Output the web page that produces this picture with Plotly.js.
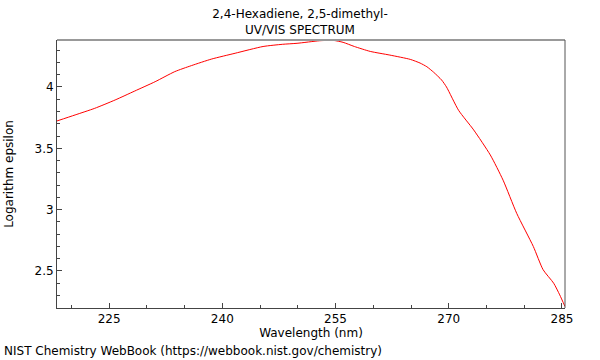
<!DOCTYPE html>
<html><head><meta charset="utf-8">
<script src="https://cdn.plot.ly/plotly-3.0.1.min.js"></script>
<style>html,body{margin:0;padding:0;background:#fff}#c{width:600px;height:360px}</style>
</head><body><div id="c"></div>
<script>
const wavelength = [218.1, 220.5, 223.1, 225.8, 228.4, 231.1, 233.7, 235.9, 238.6, 241.7, 245.4, 248, 249.9, 252.9, 254.7, 256.0, 257.5, 259.6, 262.2, 264.9, 266.2, 267.1, 268.0, 269.05, 269.7, 271.3, 273.3, 275.5, 277.2, 279.0, 281.2, 282.5, 283.9, 284.7, 285.4];
const logEps = [3.723, 3.772, 3.826, 3.894, 3.967, 4.043, 4.125, 4.174, 4.228, 4.275, 4.33, 4.348, 4.356, 4.377, 4.38, 4.364, 4.33, 4.29, 4.26, 4.225, 4.195, 4.165, 4.12, 4.057, 4.0, 3.81, 3.65, 3.446, 3.24, 2.97, 2.70, 2.51, 2.40, 2.305, 2.21];
const xTicks = [225, 240, 255, 270, 285];
const yTicks = [2.5, 3, 3.5, 4];
const titleLines = ["2,4-Hexadiene, 2,5-dimethyl-", "UV/VIS SPECTRUM"];

const font = {family: "DejaVu Sans", size: 12, color: "#000"};
Plotly.newPlot("c", [{
  x: wavelength, y: logEps, type: "scatter", mode: "lines",
  line: {color: "#ff0000", width: 1, shape: "spline", smoothing: 0.6}
}], {
  width: 600, height: 360,
  margin: {l: 57, r: 35, t: 40, b: 52},
  paper_bgcolor: "#fff", plot_bgcolor: "#fff",
  font: font,
  showlegend: false,
  title: {text: titleLines.join("<br>"), font: {family: "DejaVu Sans", size: 12}, x: 0.5, xanchor: "center",
          yref: "container", y: 0.949, yanchor: "top"},
  xaxis: {
    range: [218.1, 285.4], tickvals: xTicks, ticktext: xTicks.map(String),
    ticks: "inside", ticklen: 5, tickcolor: "#444", tickwidth: 1,
    minor: {dtick: 5, tick0: 0, ticks: "inside", ticklen: 3, tickcolor: "#444"},
    showline: true, linecolor: "#444", linewidth: 1, showgrid: false, zeroline: false,
    title: {text: "Wavelength (nm)", font: font, standoff: 2},
    tickfont: font
  },
  yaxis: {
    range: [2.198, 4.383], tickvals: yTicks, ticktext: yTicks.map(String),
    ticks: "inside", ticklen: 5, tickcolor: "#444", tickwidth: 1,
    minor: {dtick: 0.1, tick0: 0, ticks: "inside", ticklen: 3, tickcolor: "#444"},
    showline: true, linecolor: "#444", linewidth: 1, showgrid: false, zeroline: false,
    title: {text: "Logarithm epsilon", font: font, standoff: 18},
    tickfont: font
  },
  shapes: [
    {type: "line", xref: "paper", yref: "paper", x0: 0, x1: 1, y0: 1, y1: 1, line: {color: "#999", width: 2}},
    {type: "line", xref: "paper", yref: "paper", x0: 1, x1: 1, y0: 0, y1: 1, line: {color: "#555", width: 1}}
  ],
  annotations: [{
    text: "NIST Chemistry WebBook (https://webbook.nist.gov/chemistry)",
    xref: "paper", yref: "paper", x: -55/508, y: -52/268, xanchor: "left", yanchor: "bottom",
    showarrow: false, font: font
  }]
}, {staticPlot: true});
</script></body></html>
